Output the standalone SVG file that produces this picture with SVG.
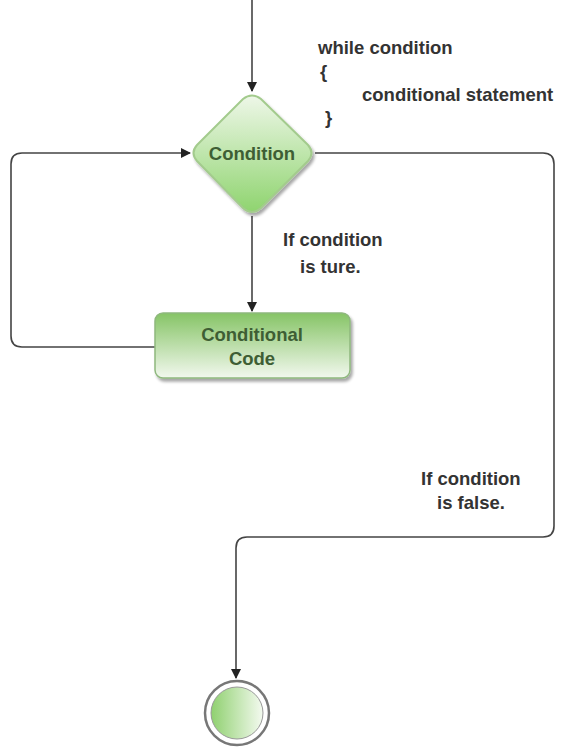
<svg xmlns="http://www.w3.org/2000/svg" width="564" height="748" viewBox="0 0 564 748">
  <style>
    .edge { fill: none; stroke: #444; stroke-width: 1.6; }
    .lbl { font-family: "Liberation Sans", Arial, sans-serif; font-weight: bold; font-size: 18.5px; fill: #333; }
    .nodetxt { font-family: "Liberation Sans", Arial, sans-serif; font-weight: bold; font-size: 18.5px; fill: #3e5e34; text-anchor: middle; }
  </style>
  <defs>
    <marker id="arrow" viewBox="0 0 10 10" refX="9" refY="5" markerWidth="10" markerHeight="10" markerUnits="userSpaceOnUse" orient="auto">
      <path d="M0,0 L10,5 L0,10 z" fill="#222"/>
    </marker>
    <linearGradient id="diamondFill" x1="0" y1="0" x2="0" y2="1">
      <stop offset="0" stop-color="#eef7e8"/>
      <stop offset="1" stop-color="#8fd46f"/>
    </linearGradient>
    <linearGradient id="boxFill" x1="0" y1="0" x2="0" y2="1">
      <stop offset="0" stop-color="#86c466"/>
      <stop offset="1" stop-color="#f2f8ee"/>
    </linearGradient>
    <linearGradient id="endFill" x1="0" y1="0" x2="1" y2="0">
      <stop offset="0" stop-color="#8fd06f"/>
      <stop offset="1" stop-color="#f4faf0"/>
    </linearGradient>
    <filter id="shadow" x="-10%" y="-10%" width="130%" height="140%">
      <feGaussianBlur in="SourceAlpha" stdDeviation="1.5"/>
      <feOffset dx="2" dy="3" result="b"/>
      <feComponentTransfer><feFuncA type="linear" slope="0.35"/></feComponentTransfer>
      <feMerge><feMergeNode/><feMergeNode in="SourceGraphic"/></feMerge>
    </filter>
  </defs>

  <!-- connectors -->
  <g id="connectors">
    <path class="edge" d="M252,0 V91" marker-end="url(#arrow)"/>
    <path class="edge" d="M252,216 V311" marker-end="url(#arrow)"/>
    <path class="edge" d="M155,347 H22 Q11,347 11,336 V164 Q11,153 22,153 H190" marker-end="url(#arrow)"/>
    <path class="edge" d="M315,153 H543 Q554,153 554,164 V526 Q554,537 543,537 H247 Q236,537 236,548 V678" marker-end="url(#arrow)"/>
  </g>

  <!-- code snippet note -->
  <g id="note">
    <text class="lbl" x="318" y="54">while condition</text>
    <text class="lbl" x="320" y="78">{</text>
    <text class="lbl" x="362" y="101">conditional statement</text>
    <text class="lbl" x="325" y="124">}</text>
  </g>

  <!-- decision -->
  <g id="condition">
    <path d="M243,99 Q252,92 261,99 L308,145 Q315,153 308,161 L261,208 Q252,216 243,208 L197,161 Q190,153 197,145 Z" fill="url(#diamondFill)" stroke="#a3cb8d" stroke-width="2" filter="url(#shadow)"/>
    <text class="nodetxt" x="252" y="160">Condition</text>
  </g>

  <g id="label-true">
    <text class="lbl" x="283" y="246">If condition</text>
    <text class="lbl" x="300" y="273">is ture.</text>
  </g>

  <!-- loop body -->
  <g id="conditional-code">
    <rect x="155" y="313" width="195" height="65" rx="8" fill="url(#boxFill)" stroke="#8fb87e" stroke-width="1.5" filter="url(#shadow)"/>
    <text class="nodetxt" x="252" y="341">Conditional</text>
    <text class="nodetxt" x="252" y="365">Code</text>
  </g>

  <g id="label-false">
    <text class="lbl" x="421" y="485">If condition</text>
    <text class="lbl" x="437" y="509">is false.</text>
  </g>

  <!-- end state -->
  <g id="end">
    <circle cx="237" cy="713" r="32" fill="#fff" stroke="#777" stroke-width="2.5"/>
    <circle cx="237" cy="713" r="26" fill="url(#endFill)" stroke="#999" stroke-width="1"/>
  </g>
</svg>
